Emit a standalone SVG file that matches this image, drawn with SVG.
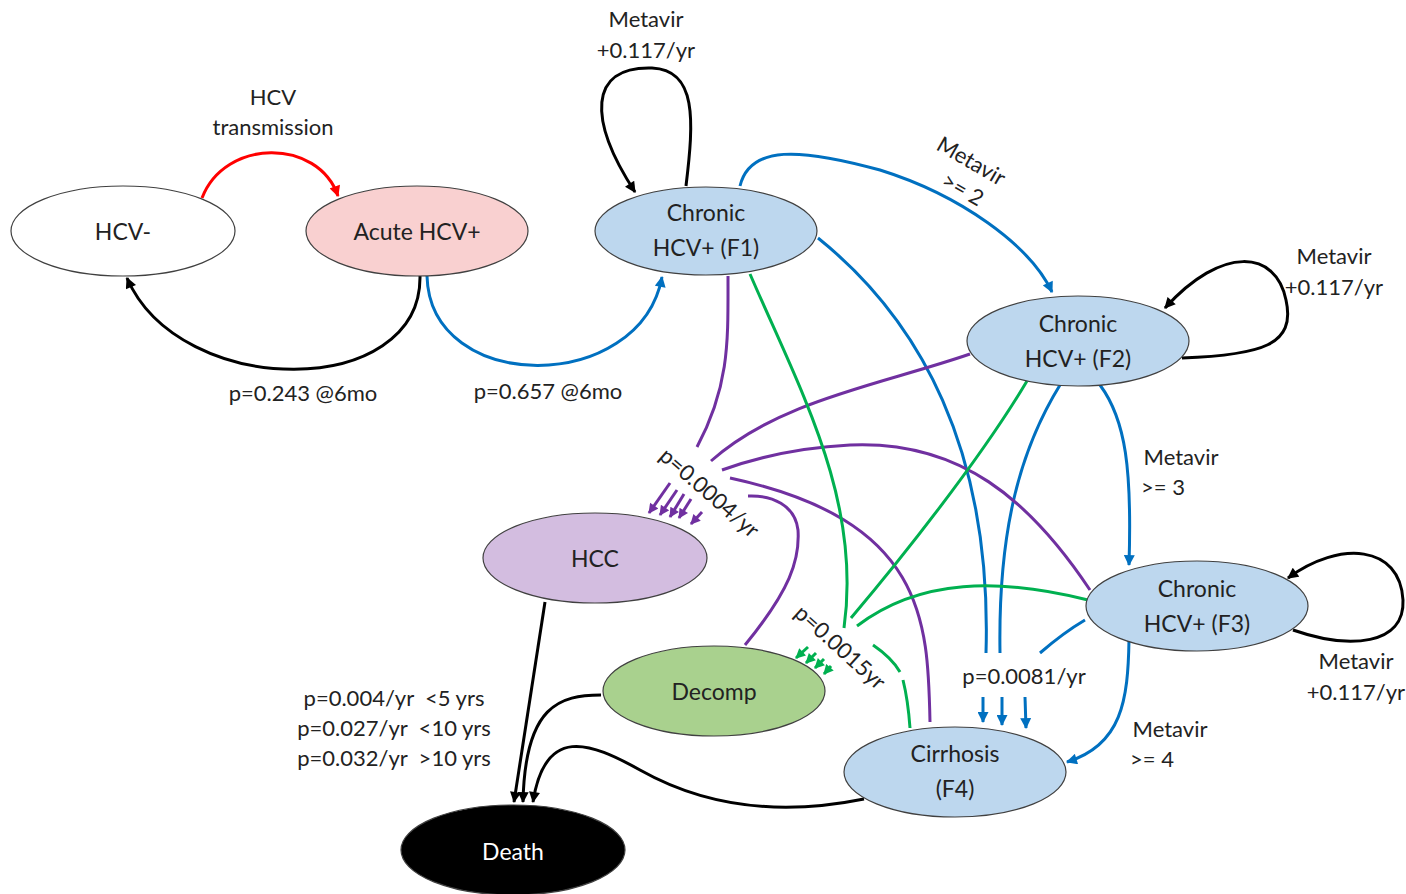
<svg xmlns="http://www.w3.org/2000/svg" width="1406" height="894" viewBox="0 0 1406 894">
<style>
text{font-family:Lato,"Open Sans","Liberation Sans",sans-serif;font-size:23px;fill:#222;text-anchor:middle}
.lbl{font-size:22px}
.node{stroke:#404040;stroke-width:1.2}
.c{fill:none;stroke-width:3}
.k{stroke:#000}.b{stroke:#0070c0}.g{stroke:#00b050}.p{stroke:#7030a0}.r{stroke:#ff0000}
</style>
<defs>
<marker id="ak" viewBox="0 0 10 10" refX="9" refY="5" markerWidth="12" markerHeight="11" markerUnits="userSpaceOnUse" orient="auto"><path d="M0,0 L10,5 L0,10 z" fill="#000"/></marker>
<marker id="ab" viewBox="0 0 10 10" refX="9" refY="5" markerWidth="12" markerHeight="11" markerUnits="userSpaceOnUse" orient="auto"><path d="M0,0 L10,5 L0,10 z" fill="#0070c0"/></marker>
<marker id="ag" viewBox="0 0 10 10" refX="9" refY="5" markerWidth="11" markerHeight="10" markerUnits="userSpaceOnUse" orient="auto"><path d="M0,0 L10,5 L0,10 z" fill="#00b050"/></marker>
<marker id="ap" viewBox="0 0 10 10" refX="9" refY="5" markerWidth="11" markerHeight="10" markerUnits="userSpaceOnUse" orient="auto"><path d="M0,0 L10,5 L0,10 z" fill="#7030a0"/></marker>
<marker id="ar" viewBox="0 0 10 10" refX="9" refY="5" markerWidth="12" markerHeight="11" markerUnits="userSpaceOnUse" orient="auto"><path d="M0,0 L10,5 L0,10 z" fill="#ff0000"/></marker>
</defs>
<rect width="1406" height="894" fill="#fff"/>

<g id="connectors">
<path class="c r" d="M202 198 C225 138 318 138 338 196" marker-end="url(#ar)"/>
<path class="c k" d="M420 276 C422 400 180 400 127 278" marker-end="url(#ak)"/>
<path class="c b" d="M427 276 C430 395 640 395 662 277" marker-end="url(#ab)"/>
<path class="c k" d="M686 186 C694 120 697 70 652 68 C588 66 588 120 635 192" marker-end="url(#ak)"/>
<path class="c b" d="M740 186 C750 145 800 148 880 170 C960 195 1030 245 1052 292" marker-end="url(#ab)"/>
<path class="c k" d="M1182 358 C1262 355 1296 345 1286 300 C1276 250 1222 245 1165 308" marker-end="url(#ak)"/>
<path class="c b" d="M1100 385 C1126 420 1132 470 1129 565" marker-end="url(#ab)"/>
<path class="c k" d="M1293 630 C1350 650 1405 645 1403 600 C1400 545 1340 540 1288 578" marker-end="url(#ak)"/>
<path class="c b" d="M1129 640 C1128 700 1122 745 1067 762" marker-end="url(#ab)"/>
<path class="c b" d="M818 238 C920 320 992 450 986 653"/>
<path class="c b" d="M1060 385 C1020 450 998 530 1000 653"/>
<path class="c b" d="M1085 620 C1068 630 1055 640 1040 653"/>
<path class="c b" d="M983 697 L983 722" marker-end="url(#ab)"/>
<path class="c b" d="M1002 697 L1002 725" marker-end="url(#ab)"/>
<path class="c b" d="M1025 697 L1026 728" marker-end="url(#ab)"/>
<path class="c p" d="M728 276 C728 340 730 385 697 447"/>
<path class="c p" d="M970 354 C880 385 780 400 711 461"/>
<path class="c p" d="M1090 590 C1030 500 960 440 850 445 C790 448 750 460 722 470"/>
<path class="c p" d="M930 722 C928 620 925 520 730 478"/>
<path class="c p" d="M745 645 C790 590 800 560 798 530 C795 505 772 495 748 496"/>
<path class="c p" d="M670 483 L649 513" marker-end="url(#ap)"/>
<path class="c p" d="M677 490 L660 515" marker-end="url(#ap)"/>
<path class="c p" d="M684 494 L670 517" marker-end="url(#ap)"/>
<path class="c p" d="M691 499 L679 518" marker-end="url(#ap)"/>
<path class="c p" d="M702 512 L691 524" marker-end="url(#ap)"/>
<path class="c g" d="M750 274 C800 390 862 500 844 628"/>
<path class="c g" d="M1027 381 C980 460 900 560 851 618"/>
<path class="c g" d="M1088 600 C1000 578 920 578 857 626"/>
<path class="c g" d="M873 645 Q892 658 900 672"/>
<path class="c g" d="M903 680 Q908 700 910 728"/>
<path class="c g" d="M808 647 L796 658" marker-end="url(#ag)"/>
<path class="c g" d="M816 653 L806 663" marker-end="url(#ag)"/>
<path class="c g" d="M824 659 L815 668" marker-end="url(#ag)"/>
<path class="c g" d="M831 666 L824 674" marker-end="url(#ag)"/>
<path class="c k" d="M545 602 L514 802" marker-end="url(#ak)"/>
<path class="c k" d="M601 695 C560 695 525 705 523 802" marker-end="url(#ak)"/>
<path class="c k" d="M864 799 C800 812 720 815 640 770 C590 742 545 725 533 802" marker-end="url(#ak)"/>
</g>

<g id="labels">
<text class="lbl" x="273" y="105">HCV</text>
<text class="lbl" x="273" y="135">transmission</text>
<text class="lbl" x="646" y="27">Metavir</text>
<text class="lbl" x="646" y="58">+0.117/yr</text>
<text class="lbl" x="303" y="401">p=0.243 @6mo</text>
<text class="lbl" x="548" y="399">p=0.657 @6mo</text>
<text class="lbl" x="1334" y="264">Metavir</text>
<text class="lbl" x="1334" y="295">+0.117/yr</text>
<text class="lbl" x="1181" y="465">Metavir</text>
<text class="lbl" x="1163" y="495">&gt;= 3</text>
<text class="lbl" x="1356" y="669">Metavir</text>
<text class="lbl" x="1356" y="700">+0.117/yr</text>
<text class="lbl" x="1170" y="737">Metavir</text>
<text class="lbl" x="1152" y="767">&gt;= 4</text>
<text class="lbl" x="1024" y="684">p=0.0081/yr</text>
<text class="lbl" x="394" y="706" xml:space="preserve">p=0.004/yr  &lt;5 yrs</text>
<text class="lbl" x="394" y="736" xml:space="preserve">p=0.027/yr  &lt;10 yrs</text>
<text class="lbl" x="394" y="766" xml:space="preserve">p=0.032/yr  &gt;10 yrs</text>
<text class="lbl" style="text-anchor:start" transform="translate(935,149) rotate(30)">Metavir</text>
<text class="lbl" style="text-anchor:start" transform="translate(940,185) rotate(30)">&gt;= 2</text>
<text class="lbl" style="text-anchor:start" transform="translate(658,458) rotate(41)">p=0.0004/yr</text>
<text class="lbl" style="text-anchor:start" transform="translate(793,615) rotate(42)">p=0.0015yr</text>
</g>

<g id="n-hcvneg"><ellipse class="node" cx="123" cy="231" rx="112" ry="45" fill="#fff"/><text x="123" y="240">HCV-</text></g>
<g id="n-acute"><ellipse class="node" cx="417" cy="231" rx="111" ry="45" fill="#f9d0d0"/><text x="417" y="240">Acute HCV+</text></g>
<g id="n-f1"><ellipse class="node" cx="706" cy="231" rx="111" ry="44" fill="#bdd7ee"/><text x="706" y="221">Chronic</text><text x="706" y="256">HCV+ (F1)</text></g>
<g id="n-f2"><ellipse class="node" cx="1078" cy="341" rx="111" ry="45" fill="#bdd7ee"/><text x="1078" y="332">Chronic</text><text x="1078" y="367">HCV+ (F2)</text></g>
<g id="n-f3"><ellipse class="node" cx="1197" cy="606" rx="111" ry="45" fill="#bdd7ee"/><text x="1197" y="597">Chronic</text><text x="1197" y="632">HCV+ (F3)</text></g>
<g id="n-hcc"><ellipse class="node" cx="595" cy="558" rx="112" ry="45" fill="#d3bde0"/><text x="595" y="567">HCC</text></g>
<g id="n-decomp"><ellipse class="node" cx="714" cy="691" rx="111" ry="45" fill="#a9d18e"/><text x="714" y="700">Decomp</text></g>
<g id="n-f4"><ellipse class="node" cx="955" cy="772" rx="111" ry="45" fill="#bdd7ee"/><text x="955" y="762">Cirrhosis</text><text x="955" y="797">(F4)</text></g>
<g id="n-death"><ellipse class="node" cx="513" cy="850" rx="112" ry="45" fill="#000"/><text x="513" y="860" style="fill:#fff">Death</text></g>
</svg>
